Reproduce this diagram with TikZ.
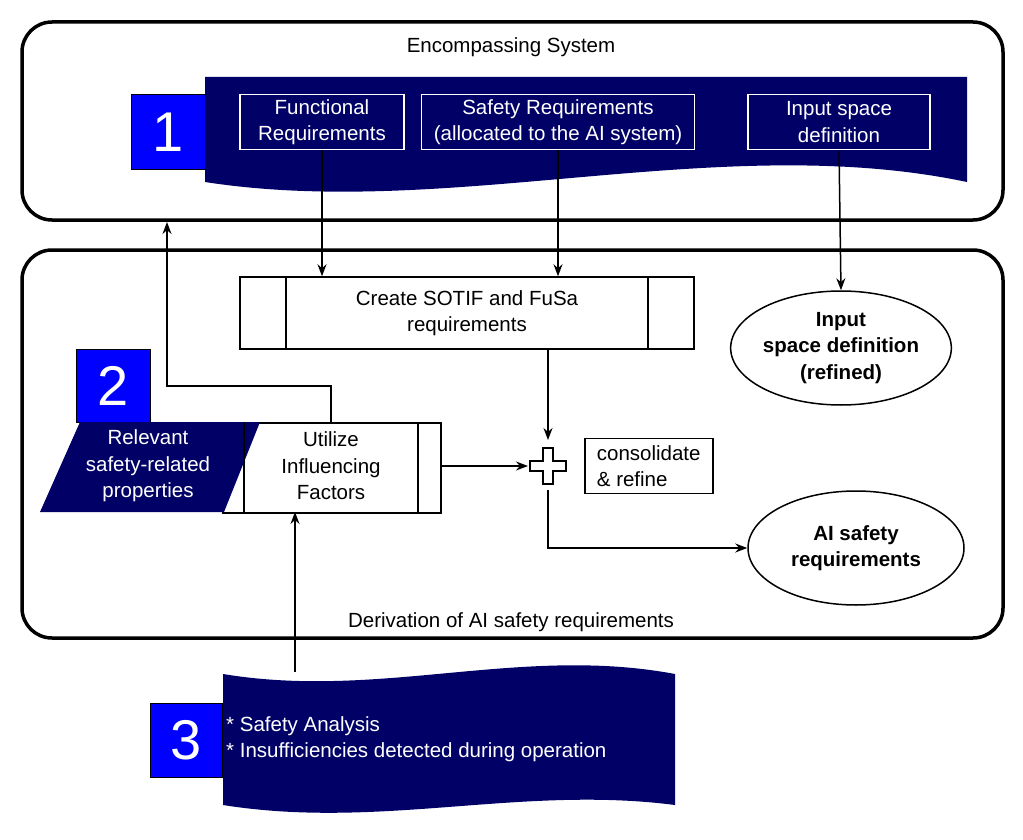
\documentclass[tikz,border=0pt]{standalone}
\usepackage{fontspec}
\setmainfont{Liberation Sans}
\usetikzlibrary{shapes.geometric,arrows.meta}
\definecolor{navy}{HTML}{000066}
\definecolor{bluesq}{HTML}{0000FF}
\begin{document}
\begin{tikzpicture}[x=1pt,y=-1pt,
  every node/.style={font=\fontsize{20.5}{26.5}\selectfont, align=center},
  frame/.style={draw, line width=3.5pt, rounded corners=30pt},
  wbox/.style={draw=white, line width=1.2pt, text=white, inner sep=0pt},
  numsq/.style={draw=black, fill=bluesq, text=white, font=\fontsize{56}{60}\selectfont, inner sep=0pt},
  conn/.style={line width=1.5pt, -{Stealth[length=12pt,width=9pt]}},
  line/.style={line width=1.5pt},
  proc/.style={draw, line width=1.5pt, fill=white},
  ell/.style={draw, ellipse, line width=1.5pt, font=\fontsize{20.5}{26.5}\selectfont\bfseries, inner sep=0pt}]
\useasboundingbox (0,0) rectangle (1023,840);
% frames
\draw[frame] (22,22) rectangle (1003,220);
\node (enc) at (511,47) {Encompassing System};
\draw[frame] (22,250) rectangle (1003,638);
\node (der) at (511,622) {Derivation of AI safety requirements};
% doc 1
\fill[navy] (205,77) -- (967,77) -- (967,182) .. controls (720,130) and (450,220) .. (205,182) -- cycle;
\node[numsq, minimum width=74pt, minimum height=75pt] (n1) at (168,132) {1};
\node[wbox, minimum width=164pt, minimum height=55pt] (fr) at (322,122) {Functional\\Requirements};
\node[wbox, minimum width=273pt, minimum height=55pt] (sr) at (558,122) {Safety Requirements\\(allocated to the AI system)};
\node[wbox, minimum width=182pt, minimum height=55pt] (is) at (839,122) {Input space\\definition};
% create box
\node[proc, minimum width=454pt, minimum height=72pt] (cr) at (467,313) {Create SOTIF and FuSa\\requirements};
\draw[line] (286,277) -- (286,349) (648,277) -- (648,349);
\node[ell, minimum width=214pt, minimum height=114pt] (isr) at (841,348) {Input\\space definition\\(refined)};
\node[ell, minimum width=216pt, minimum height=114pt] (ais) at (856,548) {AI safety\\requirements};
% 2
\node[numsq, minimum width=74pt, minimum height=73pt] (n2) at (113,386) {2};
\node[proc, minimum width=218pt, minimum height=90pt, anchor=north west] (ut) at (222,422) {};
\draw[line] (418,422) -- (418,512);
\fill[navy] (80,422) -- (260,422) -- (224,512) -- (40,512) -- cycle;
\draw[line] (244,422) -- (244,512);
\node[text=white] (rel) at (148,466) {Relevant\\safety-related\\properties};
\node (utl) at (331,466) {Utilize\\Influencing\\Factors};
% plus
\draw[line, fill=white] (543,448) -- (553,448) -- (553,461) -- (566,461) -- (566,471) -- (553,471) -- (553,484) -- (543,484) -- (543,471) -- (530,471) -- (530,461) -- (543,461) -- cycle;
\coordinate (pt) at (548,440);
\coordinate (pl) at (528,466);
\coordinate (pb) at (548,490);
\node[draw, line width=1.5pt, minimum width=128pt, minimum height=55pt, align=left, inner sep=2pt, anchor=west] (cons) at (584,466) {consolidate\\\& refine};
% doc 3
\fill[navy] (223,674) .. controls (380,700) and (520,645) .. (675,674) -- (675,805) .. controls (520,785) and (380,830) .. (223,805) -- cycle;
\node[numsq, minimum width=72pt, minimum height=74pt] (n3) at (186,740) {3};
\node[text=white, align=left, anchor=west, inner sep=2pt] (d3) at (224,739) {* Safety Analysis\\* Insufficiencies detected during operation};
\coordinate (d3top) at (295,672);
% connectors
\draw[conn] (fr.south) -- (fr.south |- cr.north);
\draw[conn] (sr.south) -- (sr.south |- cr.north);
\draw[conn] (is.south) -- (isr.north);
\draw[conn] (548,349) -- (pt);
\draw[conn] (440,466) -- (pl);
\draw[conn] (pb) |- (ais.west);
\draw[conn] (331,422) -- (331,386) -- (167,386) -- (167,222);
\draw[conn] (d3top) -- (295,512);
\end{tikzpicture}
\end{document}
